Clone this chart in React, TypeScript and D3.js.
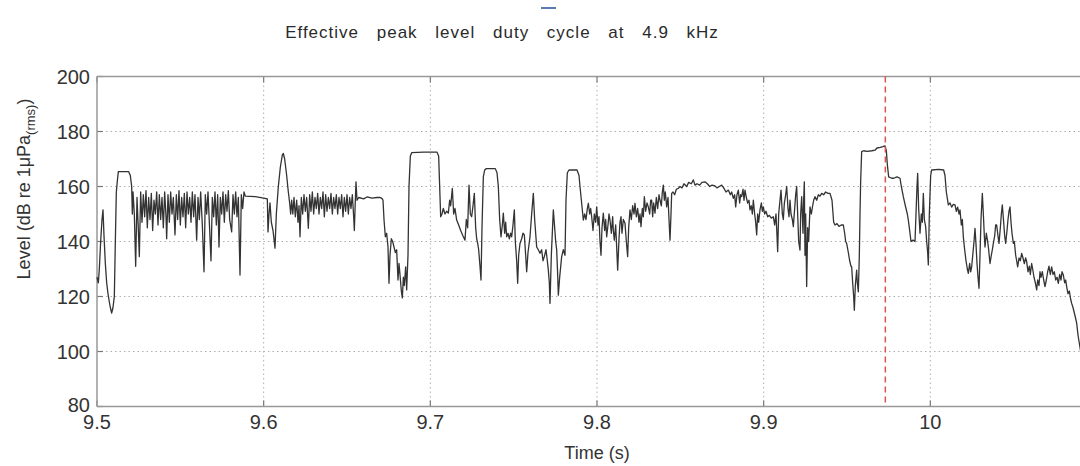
import React from "react";
import * as d3 from "d3";

const title = "Effective peak level duty cycle at 4.9 kHz";
const xLabel = "Time (s)";
const yLabelMain = "Level (dB re 1\u03BCPa";
const yLabelSub = "(rms)";
const xTicks = [9.5, 9.6, 9.7, 9.8, 9.9, 10.0];
const xTickLabels = ["9.5", "9.6", "9.7", "9.8", "9.9", "10"];
const yTicks = [80, 100, 120, 140, 160, 180, 200];
const markerTime = 9.973;

// [time (s), level (dB)]
const levelTrace: [number, number][] = [
  [9.5, 127], [9.5008, 125], [9.5014, 130], [9.5022, 140], [9.503, 148], [9.5036, 151.5], [9.5042, 142], [9.505, 132],
  [9.5058, 125], [9.5066, 121], [9.5074, 118], [9.508, 116], [9.5088, 114], [9.5096, 116], [9.5104, 120], [9.511, 140],
  [9.5116, 158], [9.5122, 162], [9.5128, 165.4], [9.519, 165.4], [9.52, 164], [9.5208, 160], [9.5212, 150],
  [9.5216, 158], [9.5224, 150], [9.5232, 131], [9.524, 156], [9.5247, 146], [9.5254, 134.5], [9.5262, 158], [9.527, 147],
  [9.5278, 157], [9.5286, 149], [9.5294, 158.5], [9.5302, 145], [9.531, 156], [9.5318, 148], [9.5326, 157.5], [9.5334, 144],
  [9.5342, 155], [9.535, 150], [9.5358, 158], [9.5366, 146], [9.5374, 157], [9.5382, 148], [9.539, 156], [9.5398, 145],
  [9.5406, 158], [9.5414, 149], [9.5418, 141], [9.5426, 157], [9.5434, 147], [9.5442, 158], [9.545, 150], [9.5458, 156],
  [9.5468, 142.4], [9.5476, 157], [9.5484, 148], [9.5492, 158.5], [9.55, 146], [9.5508, 156], [9.5516, 149], [9.5524, 157.5],
  [9.5532, 145], [9.554, 158], [9.5548, 150], [9.5556, 156], [9.5564, 147], [9.5572, 158], [9.558, 149], [9.5588, 157],
  [9.5598, 140.5], [9.5606, 156], [9.5614, 148], [9.5622, 158], [9.5632, 146], [9.5642, 129], [9.565, 157], [9.5658, 150],
  [9.5666, 158], [9.5674, 147], [9.5684, 133], [9.5692, 156], [9.57, 149], [9.5708, 158], [9.5716, 146], [9.5724, 157],
  [9.5732, 138], [9.574, 156], [9.5748, 150], [9.5756, 158], [9.5764, 147], [9.5772, 157], [9.578, 151], [9.5788, 158.5],
  [9.5796, 148], [9.5808, 143.5], [9.5816, 157], [9.5824, 150], [9.5832, 158], [9.584, 149], [9.5848, 156], [9.5858, 127.8],
  [9.5866, 157], [9.5874, 152], [9.5882, 158], [9.589, 156.5], [9.595, 156.3], [9.6, 155.8], [9.6022, 155.5],
  [9.6026, 143.5], [9.6032, 150], [9.6038, 154], [9.6046, 147], [9.6056, 144], [9.6068, 137.6], [9.6076, 150], [9.6088, 160],
  [9.61, 167], [9.6112, 171.5], [9.6118, 172], [9.6126, 170], [9.6138, 164], [9.6148, 158], [9.6156, 154], [9.6162, 150],
  [9.6168, 155], [9.6175, 150], [9.6182, 156], [9.619, 149], [9.6198, 155], [9.6206, 147], [9.6212, 153], [9.6218, 141.7],
  [9.6226, 156], [9.6234, 150], [9.6242, 157], [9.625, 151], [9.6258, 156], [9.6268, 144.8], [9.6276, 157], [9.6284, 151],
  [9.6292, 158], [9.63, 150], [9.6308, 156], [9.6316, 152], [9.6324, 157.5], [9.6332, 150], [9.634, 156], [9.6348, 152],
  [9.6356, 158], [9.6364, 149], [9.6372, 157], [9.638, 151], [9.6388, 156], [9.6396, 152], [9.6404, 157.5], [9.6412, 150],
  [9.642, 156], [9.6428, 152], [9.6436, 157], [9.6444, 150], [9.6452, 156], [9.646, 152], [9.6468, 157], [9.6476, 149],
  [9.6484, 156], [9.6492, 151], [9.65, 157], [9.6508, 150], [9.6516, 156], [9.6524, 152], [9.6532, 157], [9.654, 149],
  [9.6544, 144], [9.655, 155], [9.6554, 161.7], [9.656, 155], [9.657, 156], [9.66, 155.5], [9.662, 156.2], [9.665, 155.8],
  [9.668, 156], [9.67, 156], [9.6712, 155.5], [9.6716, 155], [9.6722, 148], [9.673, 141.7], [9.6738, 143], [9.6746, 138],
  [9.6752, 124.8], [9.6758, 135], [9.6766, 141], [9.6774, 140], [9.6782, 138], [9.679, 136], [9.6798, 137], [9.6806, 126],
  [9.6812, 132], [9.6818, 128], [9.6826, 122], [9.6832, 119.5], [9.6838, 127], [9.6844, 124], [9.6852, 130.8], [9.6858, 122.4],
  [9.6866, 135], [9.6872, 160], [9.688, 171], [9.6888, 172.3], [9.696, 172.5], [9.704, 172.5], [9.705, 171], [9.7056, 160],
  [9.7062, 149], [9.707, 150], [9.7078, 152], [9.7088, 150], [9.7098, 151], [9.7108, 150.3], [9.7116, 155], [9.7122, 153],
  [9.7132, 159.3], [9.714, 150], [9.7148, 152], [9.7158, 147.8], [9.717, 146], [9.7182, 144], [9.7196, 142], [9.7208, 140.5],
  [9.7216, 148], [9.7224, 145], [9.7232, 160.5], [9.724, 150], [9.7248, 149], [9.7256, 153], [9.7264, 157.5], [9.7272, 145],
  [9.7278, 141], [9.7284, 139.3], [9.729, 137], [9.7298, 131], [9.7304, 126], [9.731, 145], [9.7318, 163.5], [9.7326, 166],
  [9.7336, 166.5], [9.739, 166.5], [9.74, 165],
  [9.7408, 160], [9.7416, 148], [9.7424, 141.7], [9.7432, 146], [9.7438, 150.3], [9.7446, 143], [9.7452, 147], [9.7458, 141.7],
  [9.7466, 143], [9.7474, 141], [9.7482, 143], [9.7488, 141.7], [9.7496, 146], [9.7504, 151.5], [9.751, 140], [9.7518, 133],
  [9.7524, 124.8], [9.753, 135], [9.7538, 139.3], [9.7548, 141], [9.7556, 143], [9.7564, 142.4], [9.7572, 135], [9.7578, 129],
  [9.7586, 136], [9.7598, 141.7], [9.7608, 150], [9.7618, 157.5], [9.7626, 148], [9.7638, 138], [9.7648, 137], [9.7658, 135.7],
  [9.7668, 137], [9.7676, 133], [9.7684, 134.5], [9.7694, 137], [9.7702, 133], [9.7708, 129.6], [9.7714, 125], [9.7718, 117.5],
  [9.7726, 135], [9.7738, 151.5], [9.7746, 145], [9.7752, 140], [9.7758, 137], [9.7764, 128], [9.7768, 120.5], [9.7776, 127],
  [9.7788, 134.5], [9.7798, 137], [9.7808, 135], [9.7814, 155], [9.7822, 165], [9.7832, 166], [9.788, 166], [9.7892, 164],
  [9.7898, 160], [9.7918, 147.8], [9.7926, 150], [9.7934, 148], [9.7942, 152], [9.7948, 153.9], [9.7956, 150], [9.7962, 152],
  [9.7968, 149], [9.7976, 144], [9.7984, 150], [9.7992, 147], [9.7998, 152.6], [9.8006, 146], [9.8012, 149], [9.8018, 140],
  [9.8024, 135], [9.803, 145], [9.8038, 150.3], [9.8046, 144], [9.8052, 148], [9.8058, 141.7], [9.8066, 146], [9.8072, 150],
  [9.8078, 147.8], [9.8086, 143], [9.8094, 149], [9.8098, 144], [9.8104, 140.5], [9.8112, 146], [9.8118, 138], [9.8124, 129.6],
  [9.8132, 141], [9.8138, 147], [9.8144, 149], [9.815, 143], [9.8158, 148], [9.8168, 146.6], [9.8176, 140], [9.8184, 134.5],
  [9.819, 145], [9.8198, 151.5], [9.8206, 148], [9.8214, 153], [9.8222, 150], [9.8228, 153.9], [9.8236, 149], [9.8244, 152],
  [9.8252, 147], [9.8258, 150], [9.8264, 145.4], [9.8272, 152], [9.8278, 149], [9.8284, 156.3], [9.8292, 151], [9.83, 154],
  [9.8308, 152.6], [9.8316, 150], [9.8322, 155], [9.8328, 155], [9.8334, 149], [9.834, 154], [9.8348, 150.3], [9.8356, 156],
  [9.8364, 152], [9.8372, 157], [9.8378, 155], [9.8386, 153], [9.8392, 158], [9.8398, 160.5], [9.8404, 155], [9.841, 158],
  [9.8418, 152.6], [9.8426, 156], [9.8432, 148], [9.8438, 140.5], [9.8444, 150], [9.8448, 157.5], [9.8456, 158], [9.8466, 157],
  [9.8476, 159], [9.8488, 159.3], [9.8498, 160], [9.851, 159.5], [9.8522, 161], [9.8538, 160], [9.855, 161.5], [9.8566, 161],
  [9.8578, 162.4], [9.8588, 160.5], [9.86, 161], [9.8616, 160.5], [9.863, 161.5], [9.8648, 161.7], [9.8662, 161], [9.8676, 160],
  [9.869, 160.5], [9.8708, 160.2], [9.872, 159.5], [9.8734, 160], [9.8748, 160.5], [9.876, 159.5], [9.8774, 158], [9.8788, 158.7],
  [9.88, 157], [9.8808, 158], [9.8818, 155.7], [9.8826, 157], [9.8832, 152.6], [9.884, 157], [9.8848, 158.7], [9.8856, 154],
  [9.8862, 157], [9.8868, 156.3], [9.8876, 159], [9.8882, 155], [9.8888, 158.7], [9.8896, 156], [9.8904, 154], [9.8912, 155],
  [9.8918, 151.5], [9.8926, 153], [9.8932, 150], [9.8938, 155], [9.8946, 150], [9.8952, 147], [9.8958, 142.4], [9.8964, 150],
  [9.897, 147], [9.8978, 151.5], [9.8986, 154], [9.8992, 151], [9.8998, 152.6], [9.9006, 150], [9.9014, 151], [9.9024, 149],
  [9.9034, 149.5], [9.9046, 148.5], [9.9058, 149], [9.9066, 146], [9.9074, 150], [9.908, 142], [9.9084, 136.3], [9.909, 150],
  [9.9098, 155], [9.9104, 158.7], [9.9112, 150], [9.9118, 148], [9.9124, 153.9], [9.9132, 157], [9.9138, 160], [9.9146, 152],
  [9.9152, 149], [9.9158, 155], [9.9164, 150], [9.9172, 148], [9.9178, 145.4], [9.9186, 152], [9.9192, 157], [9.9198, 160],
  [9.9204, 150], [9.921, 140], [9.9218, 136.9], [9.9222, 150], [9.9228, 156.3], [9.9236, 143], [9.924, 155], [9.9244, 161.7],
  [9.9248, 135], [9.9252, 150], [9.9258, 123.6], [9.9264, 145], [9.927, 140], [9.9278, 152.6], [9.9286, 150], [9.9294, 153],
  [9.93, 155], [9.9308, 156.3], [9.9318, 155], [9.9328, 157], [9.9338, 156.5], [9.9348, 157.5], [9.936, 157], [9.9372, 158],
  [9.9386, 157.5], [9.9398, 157.5], [9.941, 155], [9.942, 147], [9.9428, 146], [9.944, 146.5], [9.9452, 145.5], [9.9466, 146],
  [9.9478, 146], [9.9486, 143], [9.9492, 140], [9.9498, 139.3], [9.9508, 136], [9.9516, 133], [9.9524, 131], [9.9528, 130.8],
  [9.9534, 125], [9.954, 120], [9.9544, 115], [9.955, 124], [9.9558, 129.6], [9.9562, 125], [9.9568, 121.7], [9.9574, 135],
  [9.9578, 150], [9.9582, 162], [9.9588, 172.7], [9.96, 173], [9.962, 172.8], [9.965, 173], [9.9668, 173.2], [9.968, 174],
  [9.97, 174.2], [9.9715, 174.5], [9.9728, 174.8], [9.9736, 173], [9.9742, 168], [9.975, 163.5], [9.9768, 163], [9.978, 163],
  [9.98, 163.5], [9.9818, 163], [9.9826, 160], [9.9838, 156.3], [9.985, 153], [9.9862, 150], [9.9868, 147.8], [9.9876, 144],
  [9.9884, 140], [9.9896, 140.5], [9.9908, 140], [9.9914, 150], [9.992, 160], [9.9924, 164.8], [9.993, 152], [9.9938, 143],
  [9.9946, 150], [9.9952, 147], [9.9958, 157.5], [9.9964, 148], [9.9972, 145.4], [9.9978, 140], [9.9984, 136], [9.9988, 131.5],
  [9.9994, 150], [10.0002, 164], [10.0008, 166], [10.005, 166.2], [10.008, 166], [10.0088, 164], [10.0096, 158], [10.0108, 153.3],
  [10.0118, 154], [10.0128, 152.5], [10.0138, 153.5], [10.0148, 153.3], [10.0156, 151], [10.0164, 152.5], [10.0172, 150], [10.0178, 151.5],
  [10.0186, 146], [10.0192, 148], [10.0198, 141.7], [10.0206, 137], [10.0214, 133], [10.0222, 130], [10.0228, 128.4], [10.0236, 132],
  [10.0242, 129], [10.0248, 130.8], [10.0256, 136], [10.0262, 140], [10.0268, 144.8], [10.0274, 139], [10.028, 132], [10.0286, 127],
  [10.0292, 123], [10.0298, 135], [10.0304, 148], [10.0312, 157.5], [10.0318, 150], [10.0324, 142], [10.0328, 138], [10.0336, 143],
  [10.0344, 140], [10.035, 137], [10.0358, 132], [10.0366, 135], [10.0372, 137], [10.0378, 139.3], [10.0386, 142], [10.0392, 146],
  [10.0398, 146], [10.0406, 142], [10.0412, 139.3], [10.042, 145], [10.0426, 150], [10.0432, 153.3], [10.044, 147], [10.0446, 142],
  [10.0452, 139.3], [10.046, 144], [10.0466, 148], [10.0472, 151], [10.0478, 152.6], [10.0484, 147], [10.049, 143], [10.0498, 139.3],
  [10.0504, 140], [10.0512, 135], [10.0518, 133], [10.0524, 130.8], [10.0532, 134], [10.054, 133], [10.0548, 135.7], [10.0556, 134],
  [10.0564, 132], [10.0572, 134], [10.0578, 132.7], [10.0586, 129], [10.0594, 131], [10.06, 128], [10.0608, 132], [10.0614, 130],
  [10.0622, 127], [10.063, 125], [10.0638, 122.4], [10.0644, 126], [10.0652, 124], [10.0658, 129], [10.0664, 127], [10.0672, 129],
  [10.068, 126], [10.0688, 123.6], [10.0696, 126], [10.0704, 129], [10.0712, 131], [10.072, 128], [10.0728, 130.8], [10.0736, 128],
  [10.0744, 129], [10.0752, 126], [10.076, 127], [10.0768, 124.8], [10.0776, 128], [10.0784, 126], [10.079, 129], [10.0798, 127.8],
  [10.0806, 125], [10.0812, 126], [10.0818, 123.6], [10.0826, 121], [10.0834, 122], [10.0842, 119], [10.0848, 117.5], [10.0856, 116],
  [10.0864, 114], [10.0872, 112], [10.0878, 110.3], [10.0886, 106], [10.0894, 103], [10.0902, 100],
];

const W = 1080;
const H = 466;
const left = 97;
const top = 76.5;
const bottom = 406.5;
const rightEdge = 1097;
const font = "'Liberation Sans', Arial, sans-serif";

export default function App() {
  const x = d3.scaleLinear().domain([9.5, 10.1]).range([left, rightEdge]);
  const y = d3.scaleLinear().domain([80, 200]).range([bottom, top]);
  const line = d3
    .line<[number, number]>()
    .x((d) => x(d[0]))
    .y((d) => y(d[1]));

  return (
    <svg
      width={W}
      height={H}
      style={{ position: "absolute", left: 0, top: 0, background: "#fff" }}
      fontFamily={font}
    >
      <rect x={0} y={0} width={W} height={H} fill="#fff" />
      <line x1={541} x2={556} y1={8} y2={8} stroke="#5a7cb0" strokeWidth={2} />
      <text
        x={502}
        y={38}
        textAnchor="middle"
        fontSize={17}
        fill="#2a2a2a"
        letterSpacing={1}
        wordSpacing={12}
      >
        {title}
      </text>

      {/* grid */}
      {yTicks.slice(1, -1).map((v) => (
        <line key={"gy" + v} x1={left} x2={W} y1={y(v)} y2={y(v)} stroke="#b0b0b0" strokeWidth={1} strokeDasharray="1.5,3" />
      ))}
      {xTicks.slice(1).map((v) => (
        <line key={"gx" + v} x1={x(v)} x2={x(v)} y1={top} y2={bottom} stroke="#b0b0b0" strokeWidth={1} strokeDasharray="1.5,3" />
      ))}

      {/* ticks */}
      {yTicks.map((v) => (
        <line key={"ty" + v} x1={left} x2={left + 6} y1={y(v)} y2={y(v)} stroke="#777" strokeWidth={1.2} />
      ))}
      {xTicks.map((v) => (
        <g key={"tx" + v}>
          <line x1={x(v)} x2={x(v)} y1={bottom} y2={bottom - 6} stroke="#777" strokeWidth={1.2} />
          <line x1={x(v)} x2={x(v)} y1={top} y2={top + 6} stroke="#777" strokeWidth={1.2} />
        </g>
      ))}

      {/* box */}
      <line x1={left} x2={W} y1={top} y2={top} stroke="#999" strokeWidth={1.5} />
      <line x1={left} x2={W} y1={bottom} y2={bottom} stroke="#999" strokeWidth={1.5} />
      <line x1={left} x2={left} y1={top} y2={bottom} stroke="#999" strokeWidth={1.5} />

      {/* data */}
      <path d={line(levelTrace) || ""} fill="none" stroke="#333" strokeWidth={1.3} strokeLinejoin="round" />

      {/* marker */}
      <line
        x1={x(markerTime)}
        x2={x(markerTime)}
        y1={top}
        y2={bottom}
        stroke="#d9534f"
        strokeWidth={1.5}
        strokeDasharray="6,4"
      />

      {/* tick labels */}
      {yTicks.map((v) => (
        <text key={"ly" + v} x={90} y={y(v) + (v === 80 ? 5 : 7)} textAnchor="end" fontSize={20} fill="#333">
          {v}
        </text>
      ))}
      {xTicks.map((v, i) => (
        <text key={"lx" + v} x={x(v)} y={429} textAnchor="middle" fontSize={20} fill="#333">
          {xTickLabels[i]}
        </text>
      ))}

      <text x={597} y={459} textAnchor="middle" fontSize={18} fill="#333">
        {xLabel}
      </text>
      <text transform="translate(30,189) rotate(-90)" textAnchor="middle" fontSize={18} fill="#333">
        {yLabelMain}
        <tspan fontSize={13} dy={5}>
          {yLabelSub}
        </tspan>
        <tspan dy={-5}>)</tspan>
      </text>
    </svg>
  );
}
